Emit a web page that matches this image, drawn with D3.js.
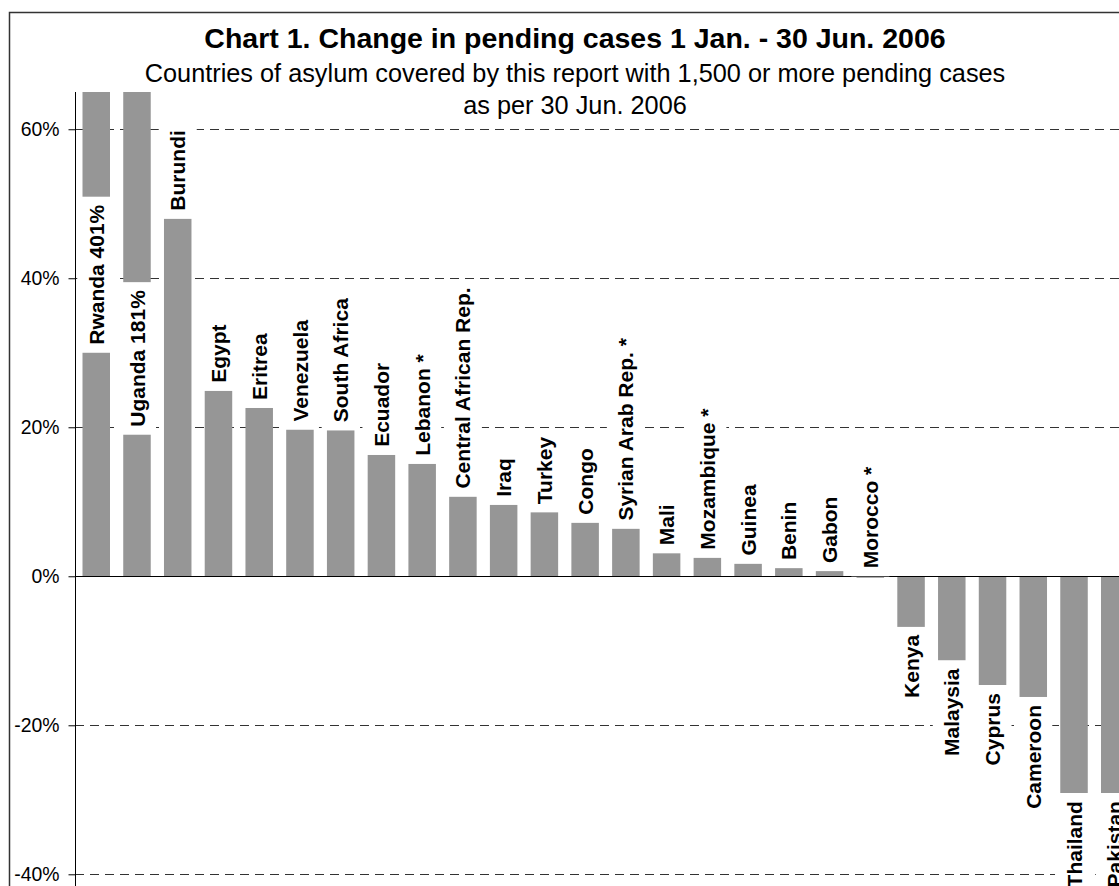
<!DOCTYPE html>
<html>
<head>
<meta charset="utf-8">
<script src="https://cdn.jsdelivr.net/npm/d3@7"></script>
<style>
  body { margin: 0; background: #fff; }
  svg { display: block; font-family: Arial, "Liberation Sans", sans-serif; }
</style>
</head>
<body>
<svg id="chart" width="1119" height="886"></svg>
<script>
// countries of asylum, sorted by change
const countries = ["Rwanda", "Uganda", "Burundi", "Egypt", "Eritrea", "Venezuela", "South Africa",
    "Ecuador", "Lebanon *", "Central African Rep.", "Iraq", "Turkey", "Congo", "Syrian Arab Rep. *",
    "Mali", "Mozambique *", "Guinea", "Benin", "Gabon", "Morocco *", "Kenya", "Malaysia", "Cyprus",
    "Cameroon", "Thailand", "Pakistan"];
// change in pending cases, percent
const changes = [401, 181, 48, 24.9, 22.6, 19.7, 19.6, 16.3, 15.1, 10.7, 9.6, 8.6, 7.2, 6.4,
    3.1, 2.5, 1.7, 1.1, 0.7, -0.2, -6.8, -11.3, -14.6, -16.2, -29.1, -29.1];
const yTicks = [-40, -20, 0, 20, 40, 60];
const title = "Chart 1. Change in pending cases 1 Jan. - 30 Jun. 2006";
const subtitle = ["Countries of asylum covered by this report with 1,500 or more pending cases",
    "as per 30 Jun. 2006"];
// bars that run off the top get their label inside the bar, starting at this value
const insideLabelAt = { "Rwanda": 30, "Uganda": 19 };

const data = countries.map((c, i) => ({ name: c, value: changes[i] }));

const svg = d3.select("#chart");
const yMin = -40, yMax = 65;

const x = d3.scaleBand()
    .domain(countries)
    .range([75, 1136])
    .paddingInner(0.325)
    .paddingOuter(0.184);

const y = d3.scaleLinear()
    .domain([yMin, yMax])
    .range([874.3, 92])
    .clamp(true);

// chart border (the picture is cropped right and bottom)
svg.append("path")
    .attr("d", "M9.5,900 V12.5 H1141.5 V900")
    .attr("fill", "none")
    .attr("stroke", "#333")
    .attr("stroke-width", 1.5);

// titles
svg.append("text")
    .attr("x", 575).attr("y", 48)
    .attr("text-anchor", "middle")
    .style("font-size", "28.5px")
    .style("font-weight", "bold")
    .text(title);

svg.selectAll(".sub")
    .data(subtitle)
    .enter().append("text")
    .attr("class", "sub")
    .attr("x", 575)
    .attr("y", (d, i) => 82 + i * 32)
    .attr("text-anchor", "middle")
    .style("font-size", "25.3px")
    .text(d => d);

// gridlines
svg.append("g")
    .selectAll("line")
    .data(yTicks.filter(t => t !== 0))
    .enter().append("line")
    .attr("x1", 75).attr("x2", 1136)
    .attr("y1", d => Math.round(y(d)) + 0.5)
    .attr("y2", d => Math.round(y(d)) + 0.5)
    .attr("stroke", "#333")
    .attr("stroke-dasharray", "9,6");

// bars
svg.append("g")
    .selectAll("rect")
    .data(data)
    .enter().append("rect")
    .attr("x", d => x(d.name))
    .attr("width", x.bandwidth())
    .attr("y", d => y(Math.max(d.value, 0)))
    .attr("height", d => Math.abs(y(d.value) - y(0)))
    .attr("fill", "#969696");

// zero line
svg.append("line")
    .attr("x1", 75).attr("x2", 1136)
    .attr("y1", Math.round(y(0)) + 0.5).attr("y2", Math.round(y(0)) + 0.5)
    .attr("stroke", "#000");

// y axis
const yAxis = d3.axisLeft(y)
    .tickValues(yTicks)
    .tickSize(7)
    .tickPadding(9)
    .tickFormat(d => d + "%");

const ax = svg.append("g")
    .attr("transform", "translate(75.5,0)")
    .call(yAxis);
ax.select(".domain").attr("d", "M0,92V900").attr("stroke", "#000");
ax.selectAll(".tick line").attr("stroke", "#000");
ax.selectAll(".tick text")
    .attr("fill", "#000")
    .style("font-size", "19.4px")
    .style("font-family", "Arial, 'Liberation Sans', sans-serif");

// bar labels, rotated, with white boxes
const pad = 8;
const labels = svg.append("g");

data.forEach(d => {
    const cx = x(d.name) + x.bandwidth() / 2;
    const label = d.value > yMax ? `${d.name} ${d.value}%` : d.name;
    const g = labels.append("g");
    const box = g.append("rect").attr("fill", "#fff");
    const t = g.append("text")
        .attr("transform", "rotate(-90)")
        .attr("dy", "0.36em")
        .style("font-size", "21px")
        .style("font-weight", "bold")
        .text(label);
    const len = t.node().getComputedTextLength();

    let y0, y1;
    if (insideLabelAt[d.name] !== undefined) {
        y1 = y(insideLabelAt[d.name]);
        y0 = y1 - len - 2 * pad;
        t.attr("text-anchor", "start").attr("x", -(y1 - pad)).attr("y", cx);
    } else if (d.value > -1) {
        y1 = y(Math.max(d.value, 0));
        y0 = y1 - len - 2 * pad;
        t.attr("text-anchor", "start").attr("x", -(y1 - pad)).attr("y", cx);
    } else {
        y0 = y(d.value);
        y1 = y0 + len + 2 * pad;
        t.attr("text-anchor", "end").attr("x", -(y0 + pad)).attr("y", cx);
    }
    box.attr("x", cx - 19).attr("width", 38)
        .attr("y", y0).attr("height", y1 - y0);
});
</script>
</body>
</html>
